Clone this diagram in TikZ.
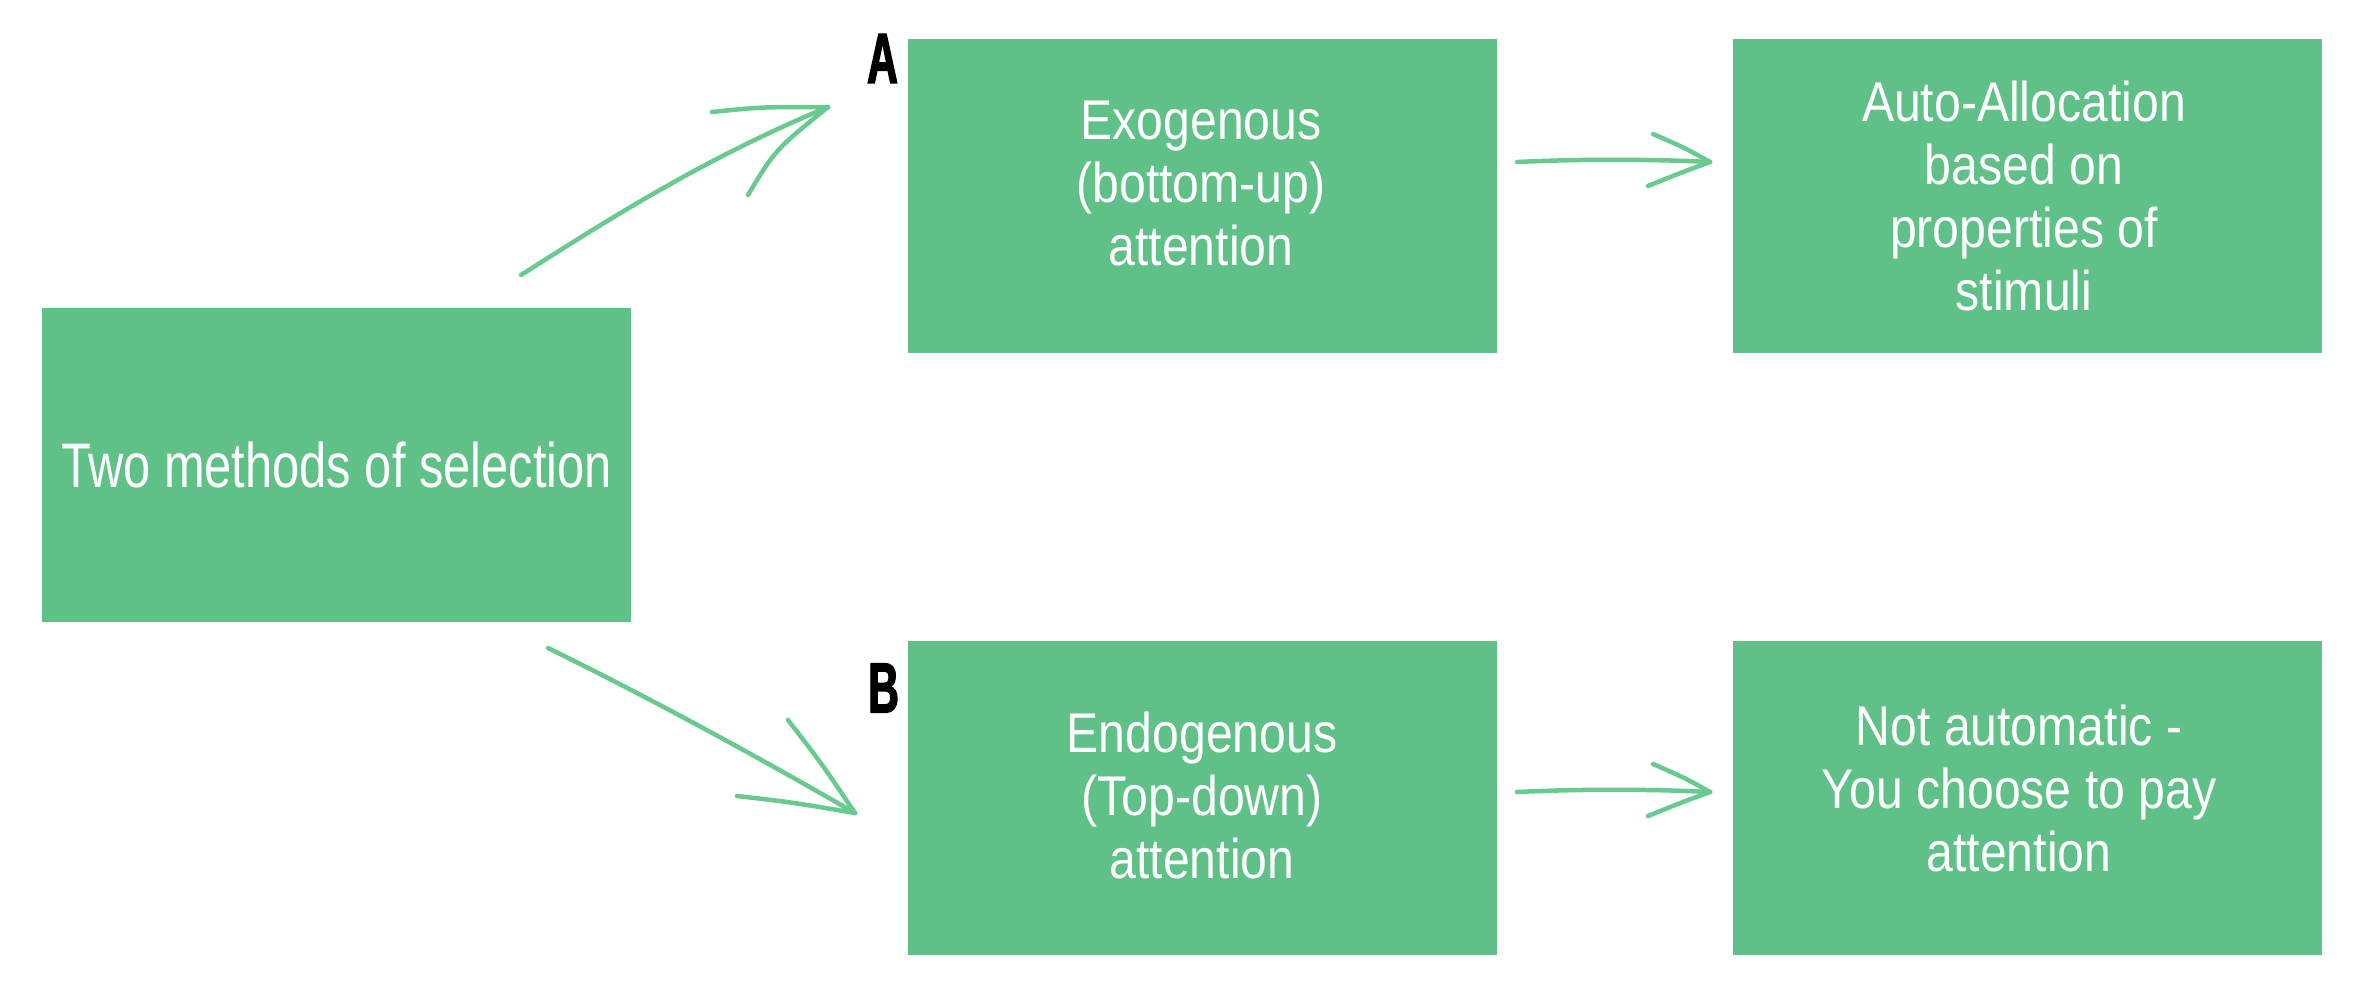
\documentclass[tikz,border=0pt]{standalone}
\usepackage{fontspec}
\setmainfont[FakeStretch=0.86]{Liberation Sans}
\newfontfamily\bigfont[FakeStretch=0.775]{Liberation Sans}
\newfontfamily\labfont[FakeStretch=0.6,BoldFeatures={FakeBold=2}]{Liberation Sans}
\definecolor{boxgreen}{RGB}{95,193,136}
\definecolor{arrgreen}{RGB}{105,202,144}
\begin{document}
\begin{tikzpicture}[x=1pt,y=-1pt,
  box/.style={fill=boxgreen, draw=none, minimum width=589pt, minimum height=314pt, inner sep=0pt, anchor=north west},
  txt/.style={text=white, font=\fontsize{56}{63}\selectfont, align=center, inner sep=0pt},
  bigtxt/.style={text=white, font=\bigfont\fontsize{63}{70}\selectfont, align=center, inner sep=0pt},
  lab/.style={font=\labfont\bfseries\fontsize{71}{71}\selectfont, inner sep=0pt, text=black},
  hand/.style={draw=arrgreen, line width=4.5pt, line cap=round, line join=round}]
\path[use as bounding box, fill=white] (0,0) rectangle (2356,994);
% boxes
\node[box] (sel)  at (42,308) {};
\node[box] (exo)  at (908,39) {};
\node[box] (auto) at (1733,39) {};
\node[box] (endo) at (908,641) {};
\node[box] (nota) at (1733,641) {};
% texts
\node[bigtxt] (selT) at (336.5,464.5) {Two methods of selection};
\node[txt] (exoT)  at (1201,184) {Exogenous\\(bottom-up)\\attention};
\node[txt] (autoT) at (2024,195.5) {Auto-Allocation\\based on\\properties of\\stimuli};
\node[txt] (endoT) at (1202,795.5) {Endogenous\\(Top-down)\\attention};
\node[txt] (notaT) at (2019,788.5) {Not automatic -\\You choose to pay\\attention};
% labels
\node[lab] (labA) at (882.5,58.5) {A};
\node[lab] (labB) at (883.5,688) {B};
% arrow coordinates
\coordinate (a1s) at (521,275);
\coordinate (a1t) at (828,107);
\coordinate (a1l) at (712,112);
\coordinate (a1r) at (748,195);
\coordinate (a2s) at (548,648);
\coordinate (a2t) at (855,813);
\coordinate (a2l) at (737,796);
\coordinate (a2r) at (788,720);
\coordinate (a3s) at (1517,162);
\coordinate (a3t) at (1710,162);
\coordinate (a3l) at (1653,134);
\coordinate (a3r) at (1648,186);
\coordinate (a4s) at (1517,792);
\coordinate (a4t) at (1710,792);
\coordinate (a4l) at (1653,764);
\coordinate (a4r) at (1648,816);
% arrow 1
\draw[hand] (a1s) .. controls (600,225) and (700,160) .. (a1t);
\draw[hand] (a1l) .. controls (760,107) .. (a1t);
\draw[hand] (a1r) .. controls (775,150) .. (a1t);
% arrow 2
\draw[hand] (a2s) .. controls (650,698) and (760,758) .. (a2t);
\draw[hand] (a2l) .. controls (790,802) .. (a2t);
\draw[hand] (a2r) .. controls (822,764) .. (a2t);
% arrow 3
\draw[hand] (a3s) .. controls (1580,159) and (1650,159) .. (a3t);
\draw[hand] (a3l) .. controls (1685,148) .. (a3t);
\draw[hand] (a3r) .. controls (1680,173) .. (a3t);
% arrow 4
\draw[hand] (a4s) .. controls (1580,789) and (1650,789) .. (a4t);
\draw[hand] (a4l) .. controls (1685,778) .. (a4t);
\draw[hand] (a4r) .. controls (1680,803) .. (a4t);
\end{tikzpicture}
\end{document}
